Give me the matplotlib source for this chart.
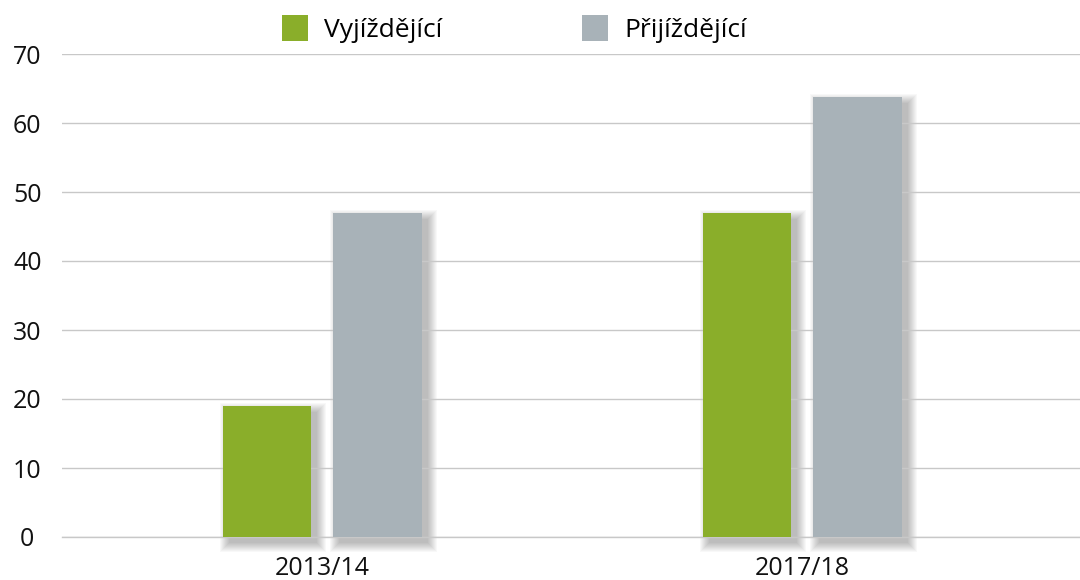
import matplotlib
matplotlib.use("Agg")
import matplotlib.pyplot as plt
import numpy as np

plt.rcParams["font.family"] = ["Open Sans", "DejaVu Sans"]

CATEGORIES = ["2013/14", "2017/18"]
SERIES = ["Vyjíždějící", "Přijíždějící"]
VYJIZDEJICI = [19.0, 47.0]
PRIJIZDEJICI = [47.0, 63.7]
COLORS = ["#8AAE2A", "#A8B2B8"]

W, H, DPI = 1080, 580, 100
fig = plt.figure(figsize=(W / DPI, H / DPI), dpi=DPI)
ax = fig.add_axes([62 / W, 43 / H, 1 - 62 / W, (537 - 54) / H])

x = np.arange(len(CATEGORIES))
bw = 0.185
offs = [-0.115, 0.115]
XMIN, XMAX = -0.542, 1.579
ax.set_xlim(XMIN, XMAX)
ax.set_ylim(0, 70)

# pixel -> data scale
px_x = (XMAX - XMIN) / (W - 62)
px_y = 70 / (537 - 54)

# soft drop shadow (layered translucent rects), offset right/down
DX, DY = 6, 6
for vals, off in zip([VYJIZDEJICI, PRIJIZDEJICI], offs):
    for r in range(0, 10):
        ax.bar(x + off + DX * px_x, np.array(vals) + 2 * r * px_y,
               width=bw + 2 * r * px_x, bottom=-(DY + r) * px_y,
               color="black", alpha=0.026, linewidth=0, zorder=1, clip_on=False)

for vals, off, c, lab in zip([VYJIZDEJICI, PRIJIZDEJICI], offs, COLORS, SERIES):
    ax.bar(x + off, vals, width=bw, color=c, label=lab, zorder=3, linewidth=0)

ax.set_yticks(range(0, 71, 10))
ax.grid(axis="y", color="#C8C8C8", lw=1.0, zorder=2)
ax.axhline(0, color="#C8C8C8", lw=1.0, zorder=2, clip_on=False)
for s in ax.spines.values():
    s.set_visible(False)
ax.set_xticks(x)
ax.set_xticklabels(CATEGORIES)
ax.tick_params(axis="both", length=0, labelsize=18, colors="#111111")
ax.tick_params(axis="y", pad=25)
ax.tick_params(axis="x", pad=14)
for t in ax.get_yticklabels():
    t.set_horizontalalignment("center")

fig.legend(loc="upper left", bbox_to_anchor=(267 / W, 1.0), ncol=2,
           frameon=False, fontsize=19, handlelength=1.0, handleheight=1.15,
           handletextpad=0.6, columnspacing=5.3, borderaxespad=0.15)

fig.savefig("out.png", dpi=DPI)
